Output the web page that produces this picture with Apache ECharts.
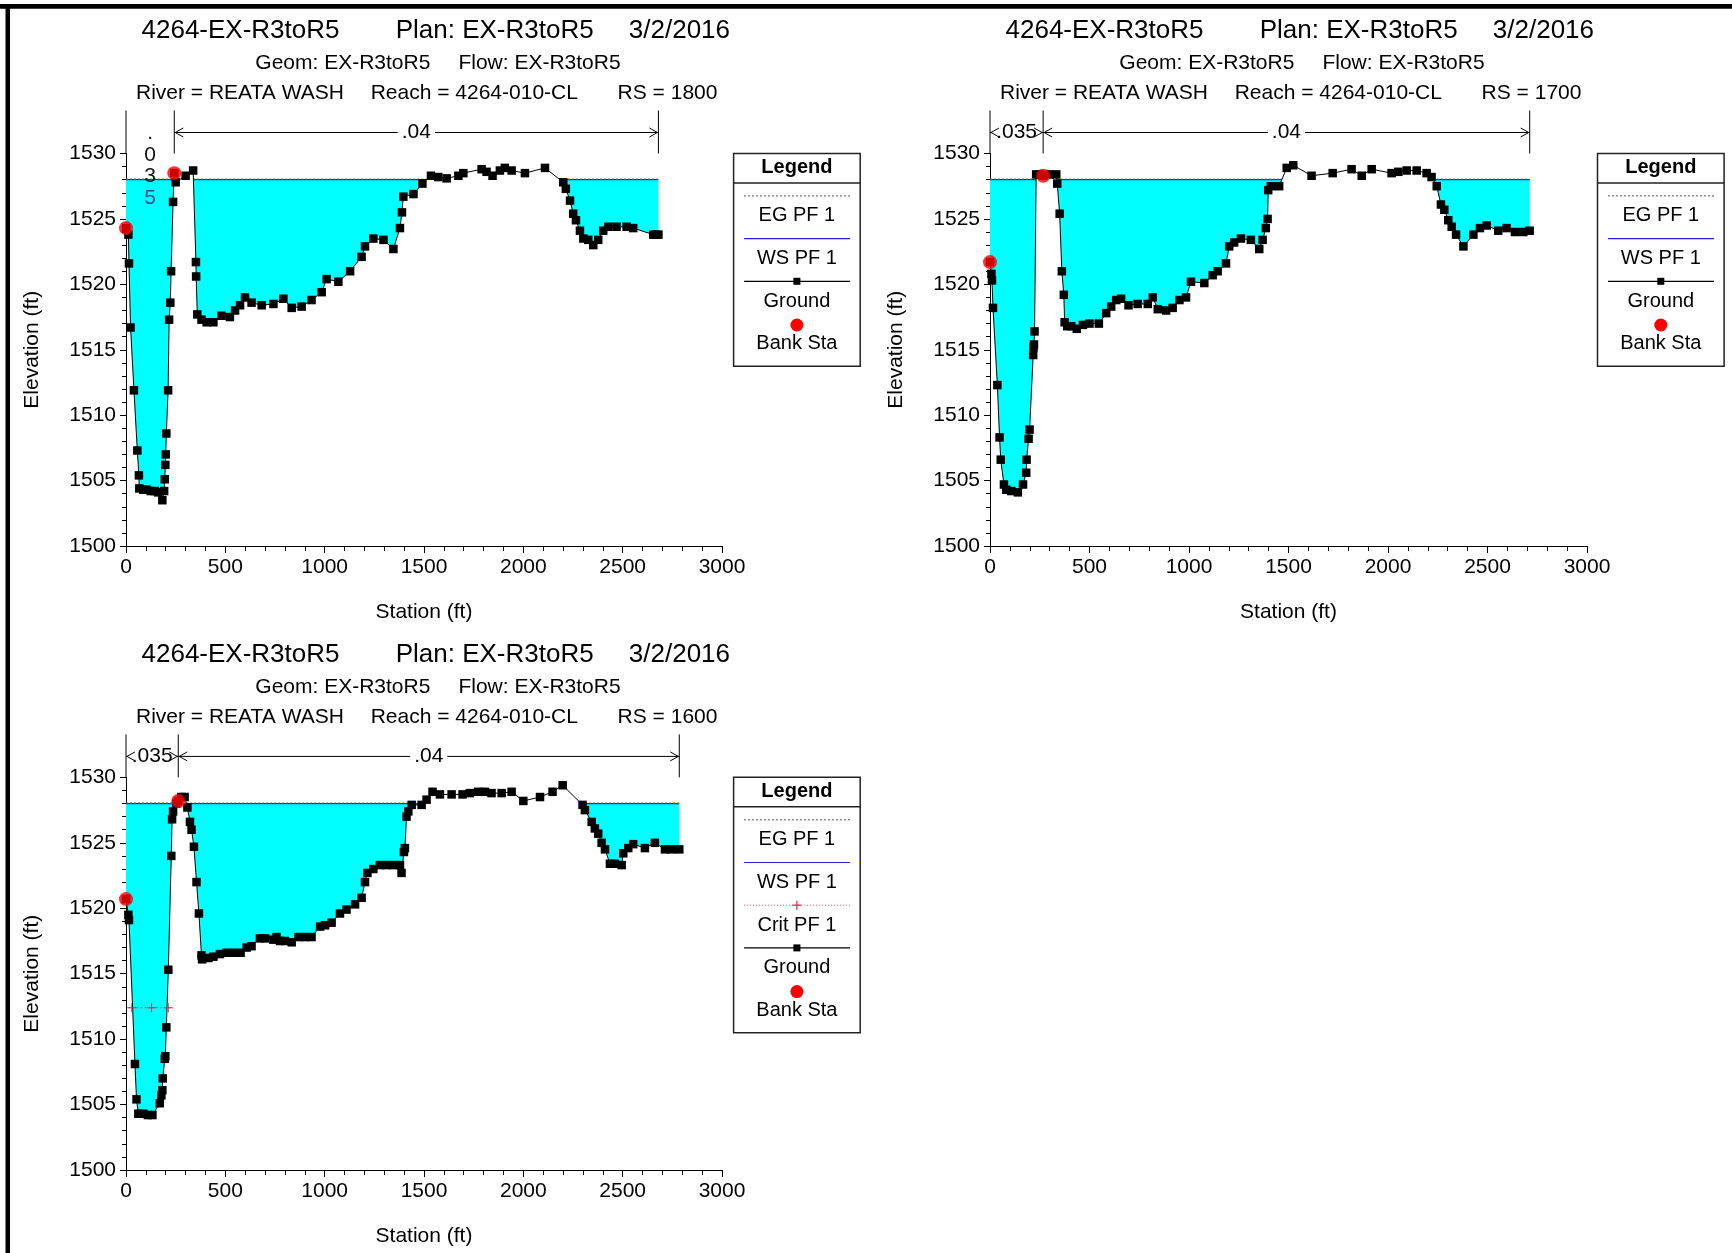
<!DOCTYPE html>
<html><head><meta charset="utf-8">
<script src="https://cdn.jsdelivr.net/npm/echarts@6/dist/echarts.min.js"></script>
<style>html,body{margin:0;padding:0;background:#fff}#c{width:1732px;height:1253px}</style>
</head><body><div id="c"></div>
<script>
// ---------------- DATA ----------------
const xTicks = [0, 500, 1000, 1500, 2000, 2500, 3000];
const yTicks = [1500, 1505, 1510, 1515, 1520, 1525, 1530];

const titleProject = '4264-EX-R3toR5';
const titlePlan = 'Plan: EX-R3toR5';
const titleDate = '3/2/2016';
const titleGeom = 'Geom: EX-R3toR5';
const titleFlow = 'Flow: EX-R3toR5';
const titleRiver = 'River = REATA WASH';
const titleReach = 'Reach = 4264-010-CL';
const xName = 'Station (ft)';
const yName = 'Elevation (ft)';

// RS = 1800
const rs1800 = 'RS = 1800';
const sta1800 = [0,12,15,23,40,57,65,67,87,105,125,145,162,183,192,195,198,200,203,212,217,223,227,237,243,250,300,338,352,353,359,380,406,440,481,523,549,574,599,632,683,742,792,834,884,934,985,1010,1069,1128,1186,1203,1245,1296,1346,1379,1389,1396,1447,1492,1535,1572,1614,1673,1698,1790,1815,1845,1882,1907,1941,2008,2109,2201,2214,2235,2251,2265,2285,2302,2327,2352,2377,2402,2427,2469,2520,2553,2654,2667,2680];
const elev1800 = [1524.3,1523.8,1521.6,1516.7,1511.9,1507.3,1505.4,1504.4,1504.3,1504.3,1504.2,1504.2,1504.1,1503.5,1504.2,1505.1,1506.2,1507.0,1508.6,1511.9,1517.3,1518.6,1521.0,1526.3,1528.5,1527.8,1528.3,1528.7,1521.7,1520.6,1517.7,1517.3,1517.1,1517.1,1517.6,1517.5,1518.0,1518.4,1519.0,1518.6,1518.4,1518.5,1518.9,1518.2,1518.3,1518.8,1519.4,1520.4,1520.2,1521.0,1522.1,1522.9,1523.5,1523.4,1522.7,1524.3,1525.5,1526.7,1526.9,1527.7,1528.3,1528.2,1528.1,1528.3,1528.5,1528.8,1528.6,1528.3,1528.7,1528.9,1528.7,1528.5,1528.9,1527.8,1527.3,1526.4,1525.4,1524.9,1524.1,1523.5,1523.4,1523.0,1523.4,1524.1,1524.4,1524.4,1524.4,1524.3,1523.8,1523.8,1523.8];
const bankSta1800 = [0, 243];
const bankElev1800 = [1524.3, 1528.5];
const ws1800 = 1528.0;
const eg1800 = 1528.05;
const nSta1800 = [0, 243, 2680];
const nVal1800 = ['.035', '.04'];
const legend1800 = ['EG PF 1', 'WS PF 1', 'Ground', 'Bank Sta'];

// RS = 1700
const rs1700 = 'RS = 1700';
const sta1700 = [0,7,10,15,37,48,54,70,82,107,140,166,182,184,194,199,217,219,221,224,232,250,267,300,333,338,350,361,371,375,388,408,436,467,500,547,584,609,634,659,696,742,793,818,843,885,918,952,985,1010,1077,1119,1144,1186,1202,1227,1261,1311,1353,1370,1386,1395,1398,1411,1453,1491,1524,1616,1722,1817,1868,1918,2018,2052,2094,2144,2194,2219,2245,2266,2283,2303,2320,2342,2379,2429,2462,2496,2554,2596,2638,2680,2712];
const elev1700 = [1521.7,1520.8,1520.3,1518.2,1512.3,1508.3,1506.6,1504.7,1504.3,1504.2,1504.1,1504.7,1505.6,1506.6,1508.2,1508.9,1514.6,1515.2,1515.4,1516.4,1528.4,1528.4,1528.3,1528.4,1528.4,1527.7,1525.4,1521.0,1519.2,1517.1,1516.8,1516.8,1516.6,1516.9,1517.0,1517.0,1517.8,1518.3,1518.8,1518.9,1518.4,1518.5,1518.5,1519.0,1518.1,1518.0,1518.2,1518.8,1519.0,1520.2,1520.1,1520.7,1521.0,1521.6,1522.9,1523.2,1523.5,1523.4,1522.7,1523.4,1524.3,1525.0,1527.2,1527.5,1527.5,1528.9,1529.1,1528.3,1528.5,1528.8,1528.3,1528.8,1528.5,1528.6,1528.7,1528.7,1528.5,1528.2,1527.5,1526.1,1525.7,1524.9,1524.4,1523.8,1522.9,1523.8,1524.3,1524.5,1524.1,1524.3,1524.0,1524.0,1524.1];
const bankSta1700 = [0, 267];
const bankElev1700 = [1521.7, 1528.3];
const ws1700 = 1528.0;
const eg1700 = 1528.05;
const nSta1700 = [0, 267, 2712];
const nVal1700 = ['.035', '.04'];
const legend1700 = ['EG PF 1', 'WS PF 1', 'Ground', 'Bank Sta'];

// RS = 1600
const rs1600 = 'RS = 1600';
const sta1600 = [0,12,15,45,53,62,87,110,133,170,178,183,185,195,198,203,213,228,232,237,253,263,278,295,309,322,330,342,355,367,380,383,415,440,473,506,541,577,607,632,674,700,742,758,775,800,834,868,901,934,977,1002,1035,1077,1110,1153,1186,1203,1215,1245,1278,1312,1346,1379,1387,1399,1404,1412,1421,1438,1488,1513,1543,1580,1639,1694,1731,1773,1807,1840,1891,1941,2000,2084,2147,2198,2298,2310,2344,2360,2377,2394,2411,2436,2461,2495,2503,2528,2553,2612,2662,2713,2746,2785];
const elev1600 = [1520.7,1519.5,1519.1,1508.1,1505.4,1504.3,1504.3,1504.2,1504.2,1505.1,1505.7,1506.1,1507.0,1508.5,1508.7,1510.9,1515.3,1524.0,1526.8,1527.4,1528.0,1528.2,1528.5,1528.5,1527.7,1526.6,1526.0,1524.7,1522.0,1519.6,1516.4,1516.1,1516.2,1516.3,1516.5,1516.6,1516.6,1516.6,1517.0,1517.1,1517.7,1517.7,1517.6,1517.8,1517.5,1517.5,1517.4,1517.8,1517.8,1517.8,1518.6,1518.7,1518.9,1519.6,1519.9,1520.3,1520.8,1522.0,1522.7,1523.0,1523.3,1523.3,1523.3,1523.3,1522.7,1524.3,1524.6,1527.0,1527.4,1527.9,1527.9,1528.3,1528.9,1528.7,1528.7,1528.7,1528.8,1528.9,1528.9,1528.8,1528.8,1528.9,1528.2,1528.5,1528.9,1529.4,1527.9,1527.5,1526.6,1526.1,1525.7,1525.0,1524.5,1523.4,1523.4,1523.3,1524.2,1524.6,1524.9,1524.6,1525.0,1524.5,1524.5,1524.5];
const bankSta1600 = [0, 263];
const bankElev1600 = [1520.7, 1528.2];
const ws1600 = 1528.0;
const eg1600 = 1528.05;
const critSta1600 = [12, 29, 129, 213, 230];
const critElev1600 = 1512.4;
const nSta1600 = [0, 263, 2785];
const nVal1600 = ['.035', '.04'];
const legend1600 = ['EG PF 1', 'WS PF 1', 'Crit PF 1', 'Ground', 'Bank Sta'];

// ---------------- LAYOUT ----------------
const FONT = "'Liberation Sans', Arial, Helvetica, sans-serif";
const layouts = [
  {gx:126, gy:153.5, gw:596, gh:392.5, dx:0,   dy:0,     lx:733.6,  ly:153.4},
  {gx:990, gy:153.5, gw:597, gh:392.5, dx:864, dy:0,     lx:1597.5, ly:153.4},
  {gx:126, gy:777.4, gw:596, gh:392.6, dx:0,   dy:623.8, lx:733.6,  ly:777.3}
];
const panels = [
  {rs:rs1800, sta:sta1800, elev:elev1800, bankSta:bankSta1800, bankElev:bankElev1800, ws:ws1800, eg:eg1800, nSta:nSta1800, nVal:nVal1800, legend:legend1800},
  {rs:rs1700, sta:sta1700, elev:elev1700, bankSta:bankSta1700, bankElev:bankElev1700, ws:ws1700, eg:eg1700, nSta:nSta1700, nVal:nVal1700, legend:legend1700},
  {rs:rs1600, sta:sta1600, elev:elev1600, bankSta:bankSta1600, bankElev:bankElev1600, ws:ws1600, eg:eg1600, nSta:nSta1600, nVal:nVal1600, legend:legend1600, critSta:critSta1600, critElev:critElev1600}
];

const WS_COLOR = '#2323d8';
const PLUS = 'path://M-1,-10 L1,-10 L1,-1 L10,-1 L10,1 L1,1 L1,10 L-1,10 L-1,1 L-10,1 L-10,-1 L-1,-1 Z';
const plainNum = function (v) { return String(v); };

function wetPolys(st, el, ws) {
  const polys = []; let cur = null;
  for (let i = 0; i < st.length; i++) {
    const x = st[i], y = el[i];
    if (i > 0) {
      const xp = st[i-1], yp = el[i-1];
      const wasWet = yp < ws, isWet = y < ws;
      if (wasWet !== isWet) {
        const t = (ws - yp) / (y - yp);
        const xc = xp + t * (x - xp);
        if (isWet) { cur = [[xc, ws]]; } else { cur.push([xc, ws]); polys.push(cur); cur = null; }
      }
    }
    if (y < ws) {
      if (!cur) cur = [[x, ws]];
      cur.push([x, y]);
    }
  }
  if (cur) { cur.push([st[st.length-1], ws]); polys.push(cur); }
  return polys;
}

function txt(x, y, s, size, opts) {
  opts = opts || {};
  const al = opts.align || 'left';
  return {type:'text', silent:true, z: opts.z || 10, style:{x:x, y:y, text:s, font:(opts.bold?'bold ':'') + size + 'px ' + FONT,
    fill: opts.fill || '#000', textAlign:al, align:al, textVerticalAlign:'middle', verticalAlign:'middle'}};
}

const grids = [], xAxes = [], yAxes = [], series = [], gEls = [];

panels.forEach(function (P, i) {
  const L = layouts[i];
  grids.push({left:L.gx, top:L.gy, width:L.gw, height:L.gh, containLabel:false});
  xAxes.push({
    type:'value', gridIndex:i, min:xTicks[0], max:xTicks[xTicks.length-1], interval:xTicks[1]-xTicks[0],
    axisLine:{show:true, onZero:false, lineStyle:{color:'#000', width:1}},
    axisTick:{show:true, length:7, lineStyle:{color:'#000', width:1}},
    minorTick:{show:true, splitNumber:5, length:5, lineStyle:{color:'#000', width:1}},
    splitLine:{show:false}, minorSplitLine:{show:false},
    axisLabel:{color:'#000', fontSize:21, fontFamily:FONT, margin:11, formatter:plainNum},
    name:xName, nameLocation:'middle', nameGap:56,
    nameTextStyle:{color:'#000', fontSize:21, fontFamily:FONT}
  });
  yAxes.push({
    type:'value', gridIndex:i, min:yTicks[0], max:yTicks[yTicks.length-1], interval:yTicks[1]-yTicks[0],
    axisLine:{show:true, onZero:false, lineStyle:{color:'#000', width:1}},
    axisTick:{show:true, length:6, lineStyle:{color:'#000', width:1}},
    minorTick:{show:true, splitNumber:5, length:4, lineStyle:{color:'#000', width:1}},
    splitLine:{show:false}, minorSplitLine:{show:false},
    axisLabel:{color:'#000', fontSize:21, fontFamily:FONT, margin:10, formatter:plainNum},
    name:yName, nameLocation:'middle', nameGap:83, nameRotate:90,
    nameTextStyle:{color:'#000', fontSize:21, fontFamily:FONT}
  });

  // water fill + WS + EG
  series.push({
    type:'custom', xAxisIndex:i, yAxisIndex:i, data:[[P.sta[0], P.ws]], z:1, silent:true, clip:false, animation:false,
    renderItem:function (params, api) {
      const polys = wetPolys(P.sta, P.elev, P.ws);
      const ch = [];
      polys.forEach(function (p) {
        ch.push({type:'polygon', shape:{points:p.map(function (q) { return api.coord(q); })}, style:{fill:'#00ffff', stroke:null}});
      });
      polys.forEach(function (p) {
        const a = api.coord([p[0][0], P.ws]), b = api.coord([p[p.length-1][0], P.ws]);
        ch.push({type:'line', shape:{x1:a[0], y1:a[1], x2:b[0], y2:b[1]}, style:{stroke:WS_COLOR, lineWidth:1.3}});
        const c = api.coord([p[0][0], P.eg]), d = api.coord([p[p.length-1][0], P.eg]);
        ch.push({type:'line', shape:{x1:c[0], y1:c[1], x2:d[0], y2:d[1]}, style:{stroke:'#777', lineWidth:1, lineDash:[2,2]}});
      });
      return {type:'group', children:ch};
    }
  });

  // critical depth
  if (P.critSta) {
    series.push({
      type:'line', xAxisIndex:i, yAxisIndex:i, z:3, silent:true, animation:false, clip:false,
      data:P.critSta.map(function (s, k) {
        const item = {value:[s, P.critElev]};
        if (k === 0 || k === P.critSta.length - 1) item.symbol = 'none';
        return item;
      }),
      symbol:PLUS, symbolSize:9, showSymbol:true,
      lineStyle:{color:'#ff4040', width:1, type:[2,2]}, itemStyle:{color:'#e8204a'}
    });
  }

  // ground
  series.push({
    type:'line', xAxisIndex:i, yAxisIndex:i, z:3, silent:true, animation:false, clip:false,
    data:P.sta.map(function (s, k) { return [s, P.elev[k]]; }),
    symbol:'rect', symbolSize:8.5, showSymbol:true, showAllSymbol:true,
    lineStyle:{color:'#000', width:1}, itemStyle:{color:'#000'}
  });

  // bank stations
  series.push({
    type:'scatter', xAxisIndex:i, yAxisIndex:i, z:4, silent:true, animation:false, clip:false,
    data:P.bankSta.map(function (s, k) { return [s, P.bankElev[k]]; }),
    symbol:'circle', symbolSize:14, itemStyle:{color:'#ff0000'}
  });

  // n-value annotations
  series.push({
    type:'custom', xAxisIndex:i, yAxisIndex:i, data:[[P.nSta[0], yTicks[yTicks.length-1]]], z:5, silent:true, clip:false, animation:false,
    renderItem:function (params, api) {
      const yMax = yTicks[yTicks.length-1];
      const yTop = api.coord([0, yMax])[1];
      const y0 = yTop - 43, ya = yTop - 21;
      const wsY = api.coord([0, P.ws])[1];
      const px = P.nSta.map(function (s) { return api.coord([s, yMax])[0]; });
      const ch = [];
      px.forEach(function (x) {
        ch.push({type:'line', shape:{x1:x, y1:y0, x2:x, y2:yTop}, style:{stroke:'#000', lineWidth:1}});
      });
      const font = '21px ' + FONT;
      for (let k = 0; k < P.nVal.length; k++) {
        const a = px[k], b = px[k+1], mid = (a + b) / 2;
        if (b - a < 50) {
          P.nVal[k].split('').forEach(function (c, j) {
            const cy = yTop - 20 + j * 21.5;
            ch.push({type:'text', style:{x:mid, y:cy, text:c, font:font, fill: cy > wsY ? '#1f4aa0' : '#111',
              textAlign:'center', align:'center', textVerticalAlign:'middle', verticalAlign:'middle'}});
          });
        } else {
          ch.push({type:'line', shape:{x1:a, y1:ya, x2:b, y2:ya}, style:{stroke:'#000', lineWidth:1}});
          ch.push({type:'text', style:{x:mid, y:ya, text:P.nVal[k], font:font, fill:'#000', backgroundColor:'#fff', padding:[0,4],
            textAlign:'center', align:'center', textVerticalAlign:'middle', verticalAlign:'middle'}});
          ch.push({type:'polyline', shape:{points:[[a+9, ya-4.5], [a+1, ya], [a+9, ya+4.5]]}, style:{stroke:'#000', fill:null, lineWidth:1}});
          ch.push({type:'polyline', shape:{points:[[b-9, ya-4.5], [b-1, ya], [b-9, ya+4.5]]}, style:{stroke:'#000', fill:null, lineWidth:1}});
        }
      }
      return {type:'group', children:ch};
    }
  });

  // titles
  gEls.push(txt(141.5 + L.dx, 30.8 + L.dy, titleProject, 26));
  gEls.push(txt(395.7 + L.dx, 30.8 + L.dy, titlePlan, 26));
  gEls.push(txt(628.8 + L.dx, 30.8 + L.dy, titleDate, 26));
  gEls.push(txt(255.3 + L.dx, 63.3 + L.dy, titleGeom, 21));
  gEls.push(txt(458.4 + L.dx, 63.3 + L.dy, titleFlow, 21));
  gEls.push(txt(136 + L.dx, 93 + L.dy, titleRiver, 21));
  gEls.push(txt(370.7 + L.dx, 93 + L.dy, titleReach, 21));
  gEls.push(txt(617.6 + L.dx, 93 + L.dy, P.rs, 21));

  // legend box
  const w = 126.6, pitch = 42.7, lx = L.lx, ly = L.ly;
  const h = 29.5 + P.legend.length * pitch + 12.5;
  gEls.push({type:'rect', silent:true, z:8, shape:{x:lx, y:ly, width:w, height:h}, style:{fill:'#fff', stroke:'#222', lineWidth:1.5}});
  gEls.push(txt(lx + w/2, ly + 14.5, 'Legend', 20, {bold:true, align:'center'}));
  gEls.push({type:'line', silent:true, z:9, shape:{x1:lx, y1:ly+29.5, x2:lx+w, y2:ly+29.5}, style:{stroke:'#222', lineWidth:1.5}});
  P.legend.forEach(function (name, k) {
    const ys = ly + 42.5 + k * pitch, yt = ly + 62.4 + k * pitch;
    const x1 = lx + 10.5, x2 = lx + 116.5, xc = lx + w/2;
    if (name.indexOf('EG') === 0) {
      gEls.push({type:'line', silent:true, z:9, shape:{x1:x1, y1:ys, x2:x2, y2:ys}, style:{stroke:'#555', lineWidth:1, lineDash:[2,2]}});
    } else if (name.indexOf('WS') === 0) {
      gEls.push({type:'line', silent:true, z:9, shape:{x1:x1, y1:ys, x2:x2, y2:ys}, style:{stroke:WS_COLOR, lineWidth:1.2}});
    } else if (name.indexOf('Crit') === 0) {
      gEls.push({type:'line', silent:true, z:9, shape:{x1:x1, y1:ys, x2:x2, y2:ys}, style:{stroke:'#e05070', lineWidth:1, lineDash:[1,2]}});
      gEls.push({type:'line', silent:true, z:9, shape:{x1:xc-4.5, y1:ys, x2:xc+4.5, y2:ys}, style:{stroke:'#e8204a', lineWidth:1.2}});
      gEls.push({type:'line', silent:true, z:9, shape:{x1:xc, y1:ys-4.5, x2:xc, y2:ys+4.5}, style:{stroke:'#e8204a', lineWidth:1.2}});
    } else if (name === 'Ground') {
      gEls.push({type:'line', silent:true, z:9, shape:{x1:x1, y1:ys, x2:x2, y2:ys}, style:{stroke:'#000', lineWidth:1.2}});
      gEls.push({type:'rect', silent:true, z:9, shape:{x:xc-3.5, y:ys-3.5, width:7, height:7}, style:{fill:'#000'}});
    } else {
      gEls.push({type:'circle', silent:true, z:9, shape:{cx:xc, cy:ys+1, r:6.5}, style:{fill:'#ff0000'}});
    }
    gEls.push(txt(xc, yt, name, 20, {align:'center'}));
  });
});

// outer frame (top and left)
gEls.push({type:'rect', silent:true, z:20, shape:{x:0, y:4, width:1732, height:4.7}, style:{fill:'#000'}});
gEls.push({type:'rect', silent:true, z:20, shape:{x:5.5, y:4, width:4.5, height:1249}, style:{fill:'#000'}});

const chart = echarts.init(document.getElementById('c'), null, {renderer:'canvas'});
chart.setOption({
  backgroundColor:'#fff',
  animation:false,
  grid:grids, xAxis:xAxes, yAxis:yAxes, series:series,
  graphic:{elements:gEls}
});
</script>
</body></html>
